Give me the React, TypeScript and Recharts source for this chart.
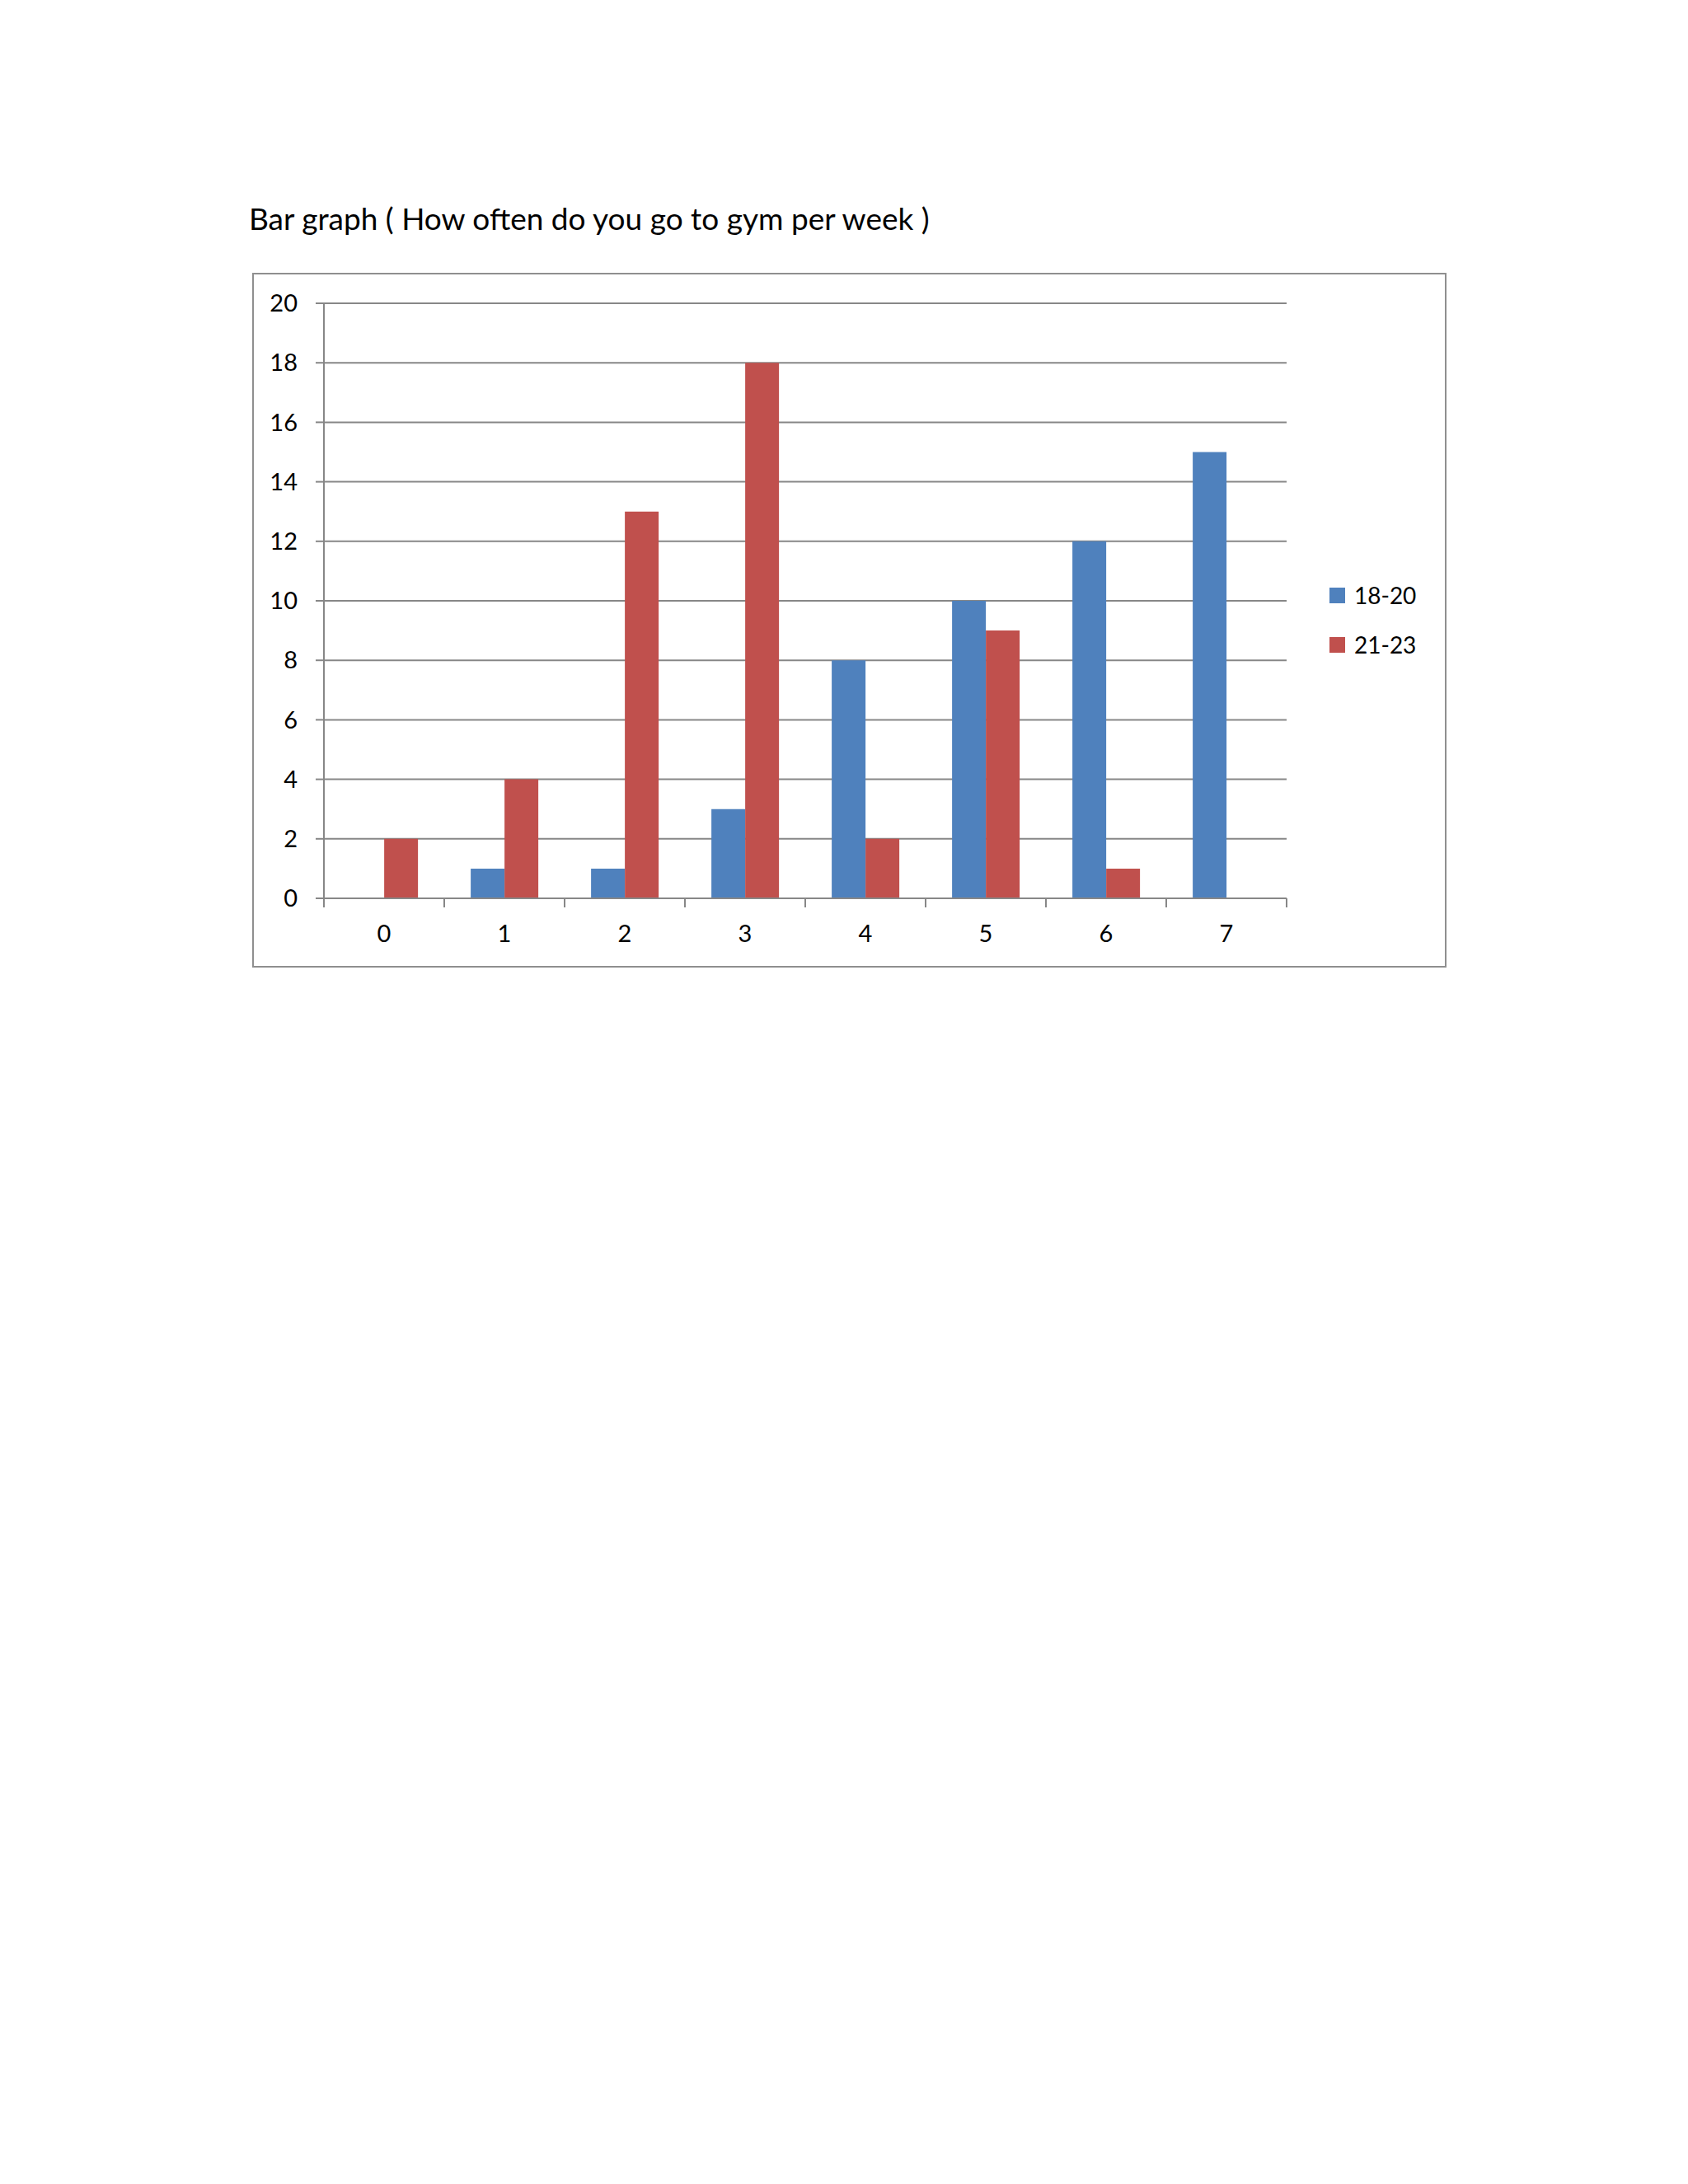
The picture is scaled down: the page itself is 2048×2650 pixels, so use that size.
import React from 'react';
import { BarChart, Bar, XAxis, YAxis, CartesianGrid, Legend } from 'recharts';

const categories = ['0', '1', '2', '3', '4', '5', '6', '7'];
const age1820 = [0, 1, 1, 3, 8, 10, 12, 15];
const age2123 = [2, 4, 13, 18, 2, 9, 1, 0];
const yTicks = [0, 2, 4, 6, 8, 10, 12, 14, 16, 18, 20];
const seriesNames = ['18-20', '21-23'];
const seriesColors = ['#4F81BD', '#C0504D'];
const titleText = 'Bar graph ( How often do you go to gym per week )';

const data = categories.map((c, i) => ({ day: c, a: age1820[i], b: age2123[i] }));

const FONT = 'Lato, "Open Sans", sans-serif';
const GRID = '#878787';

const XTick = (props: any) => {
  const { x, y, payload, index } = props;
  const half = payload && payload.offset ? payload.offset : 0;
  const isLast = index === categories.length - 1;
  return (
    <g>
      <line x1={x - half} x2={x - half} y1={y} y2={y + 11} stroke={GRID} strokeWidth={2} />
      {isLast && <line x1={x + half} x2={x + half} y1={y} y2={y + 11} stroke={GRID} strokeWidth={2} />}
      <text x={x} y={y + 53} textAnchor="middle" fontFamily={FONT} fontSize={29} fill="#000">
        {payload.value}
      </text>
    </g>
  );
};

const LegendContent = () => (
  <div style={{ fontFamily: FONT, fontSize: 28, color: '#000' }}>
    {seriesNames.map((n, i) => (
      <div key={n} style={{ height: 60, display: 'flex', alignItems: 'center' }}>
        <div style={{ width: 19, height: 19, background: seriesColors[i], marginRight: 11 }} />
        <span>{n}</span>
      </div>
    ))}
  </div>
);

export default function App() {
  return (
    <div style={{ position: 'relative', width: 2032, height: 2630, background: '#fff' }}>
      <div
        style={{
          position: 'absolute',
          left: 294,
          top: 238,
          fontFamily: FONT,
          fontSize: 37,
          lineHeight: '37px',
          whiteSpace: 'nowrap',
          color: '#000',
        }}
      >
        {titleText}
      </div>
      <div
        style={{
          position: 'absolute',
          left: 298,
          top: 323,
          width: 1445,
          height: 839,
          border: '2px solid #8f8f8f',
        }}
      >
        <BarChart
          width={1445}
          height={839}
          data={data}
          margin={{ top: 35, right: 192, bottom: 0, left: 0 }}
          barCategoryGap="22%"
          barGap={0}
        >
          <CartesianGrid vertical={false} stroke={GRID} strokeWidth={2} />
          <XAxis
            dataKey="day"
            height={82}
            tickSize={0}
            tickMargin={0}
            tickLine={false}
            axisLine={{ stroke: GRID, strokeWidth: 2 }}
            interval={0}
            tick={<XTick />}
          />
          <YAxis
            width={85}
            domain={[0, 20]}
            ticks={yTicks}
            interval={0}
            tickSize={10}
            tickMargin={22}
            axisLine={{ stroke: GRID, strokeWidth: 2 }}
            tickLine={{ stroke: GRID, strokeWidth: 2 }}
            tick={{ fontFamily: FONT, fontSize: 29, fill: '#000' }}
          />
          <Legend
            layout="horizontal"
            verticalAlign="middle"
            align="center"
            content={<LegendContent />}
            wrapperStyle={{ position: 'absolute', left: 1305, top: 359, width: 'auto' }}
          />
          <Bar dataKey="a" name={seriesNames[0]} fill={seriesColors[0]} isAnimationActive={false} />
          <Bar dataKey="b" name={seriesNames[1]} fill={seriesColors[1]} isAnimationActive={false} />
        </BarChart>
      </div>
    </div>
  );
}
